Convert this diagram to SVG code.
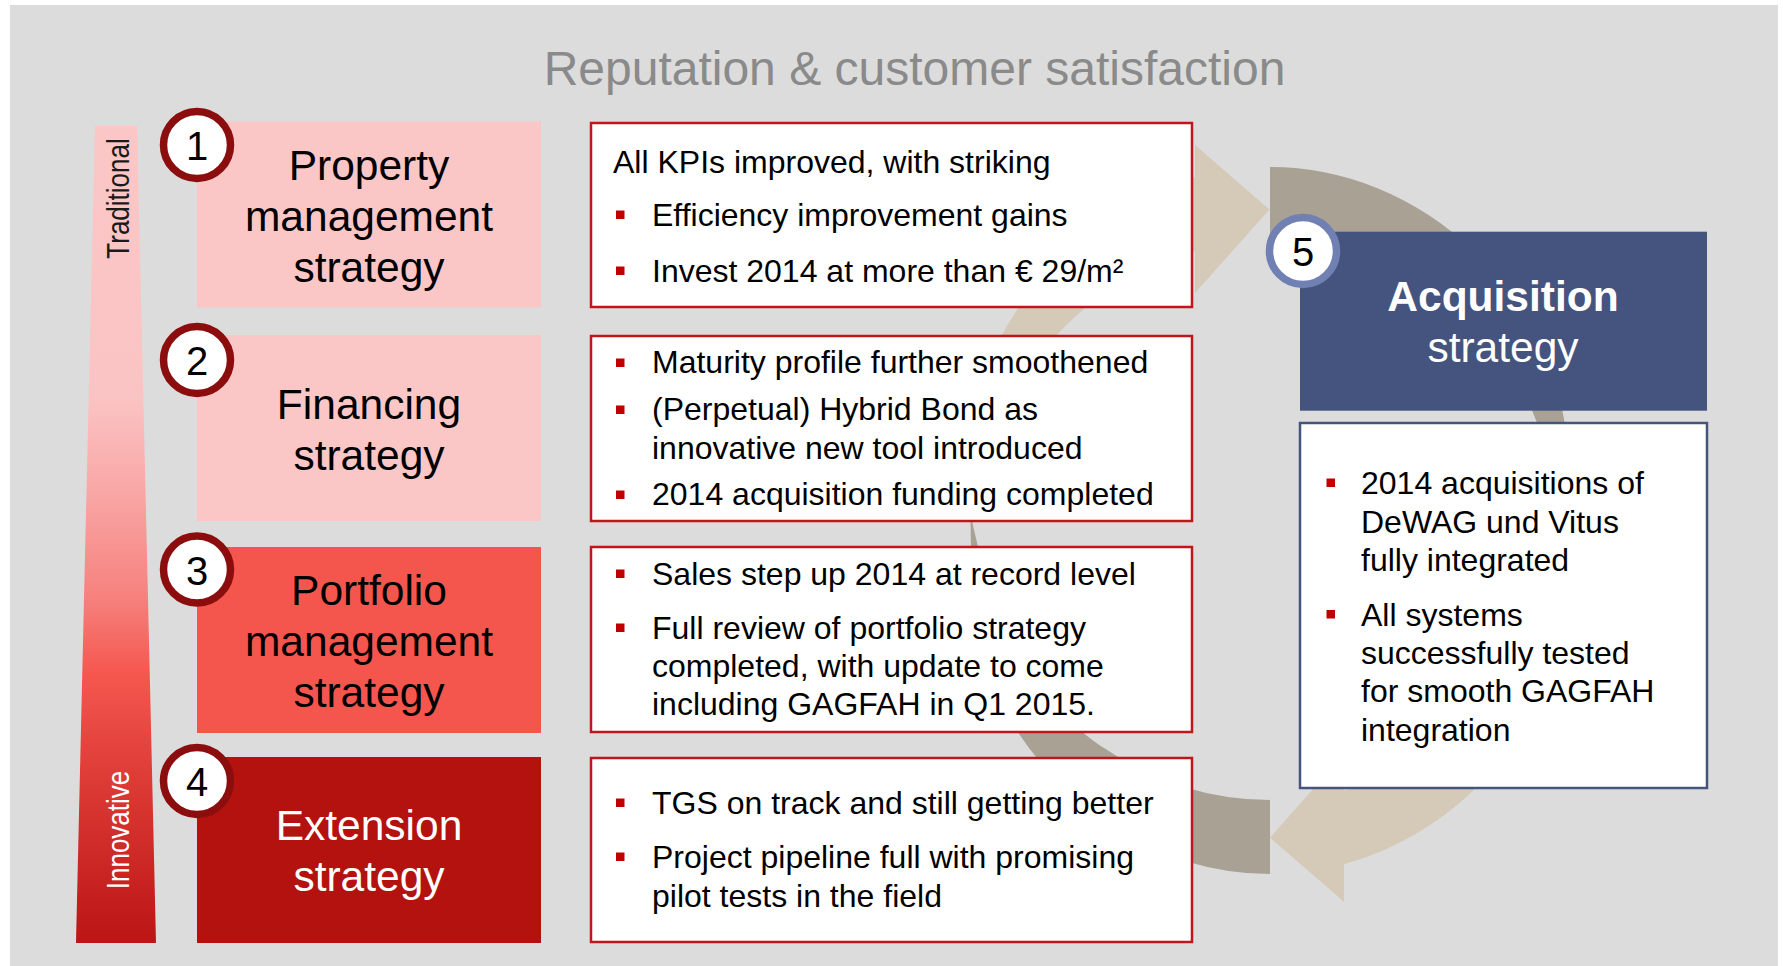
<svg xmlns="http://www.w3.org/2000/svg" width="1783" height="966" viewBox="0 0 1783 966">
<defs>
<linearGradient id="barGrad" x1="0" y1="126" x2="0" y2="943" gradientUnits="userSpaceOnUse">
<stop offset="0" stop-color="#FBC6C6"/>
<stop offset="0.33" stop-color="#FBC4C4"/>
<stop offset="0.46" stop-color="#F8A4A2"/>
<stop offset="0.58" stop-color="#F6807C"/>
<stop offset="0.67" stop-color="#F5574F"/>
<stop offset="0.8" stop-color="#DD3B36"/>
<stop offset="1" stop-color="#BB1515"/>
</linearGradient>
<style>
.t{font-family:"Liberation Sans",Arial,sans-serif;}
.big{font-size:42.5px;text-anchor:middle;}
.body{font-size:32px;fill:#000;}
.num{font-size:40px;text-anchor:middle;fill:#000;}
.ring{fill:#fff;stroke:#8B0D0D;stroke-width:7.5;}
.mbox{fill:#fff;stroke:#C0151A;stroke-width:2.5;}
.bul{fill:#C00000;}
.dark{fill:#A8A194;}
.light{fill:#D5C9B8;}
</style>
</defs>
<rect x="0" y="0" width="1783" height="966" fill="#fff"/>
<rect x="10" y="5" width="1768" height="961" fill="#DCDCDC"/>

<text class="t" x="914.5" y="85" font-size="48" fill="#8A8A8A" text-anchor="middle">Reputation &amp; customer satisfaction</text>

<g id="connectors">
<path class="light" d="M 1195 177.2 L 1195 145 L 1269.5 209.5 L 1195 293 L 1195 250.8 A 285 279.5 0 0 0 989.7 470 L 958.2 470 A 315 353.5 0 0 1 1195 177.2 Z"/>
<path class="light" d="M 1344 864.1 L 1344 901.7 L 1270 837.7 L 1344 754 L 1344 790.4 A 285 279.5 0 0 0 1552.1 560 L 1583 560 A 315 353.5 0 0 1 1344 864.1 Z"/>
<path class="dark" d="M 1270 167 A 315 353.5 0 0 1 1473 250.1 C 1545.6 318.7 1590 440 1555 514.7 A 285 279.5 0 0 0 1270 241 Z"/>
<path class="dark" d="M 970.5 512 C 971 560 970.8 646.9 998.7 700 A 315 353.5 0 0 0 1270 874 L 1270 800 A 285 279.5 0 0 1 1107.3 750 C 1010 690 978 555 970.5 512 Z"/>
</g>

<g id="scale-bar">
<polygon points="95,126 137,126 156,943 76,943" fill="url(#barGrad)"/>
<text class="t" transform="translate(129,198.5) rotate(-90) scale(1,1.23)" font-size="26" fill="#1a1a1a" text-anchor="middle">Traditional</text>
<text class="t" transform="translate(129,830) rotate(-90) scale(1,1.23)" font-size="26" fill="#fff" text-anchor="middle">Innovative</text>
</g>

<g id="node-1">
<rect x="197" y="121.5" width="344" height="186" fill="#FBC6C6"/>
<text class="t big" x="369" y="180" fill="#000">Property</text>
<text class="t big" x="369" y="231" fill="#000">management</text>
<text class="t big" x="369" y="282" fill="#000">strategy</text>
<circle class="ring" cx="197" cy="145" r="33.5"/>
<text class="t num" x="197" y="160">1</text>
</g>

<g id="node-2">
<rect x="197" y="335" width="344" height="186" fill="#FBC6C6"/>
<text class="t big" x="369" y="418.5" fill="#000">Financing</text>
<text class="t big" x="369" y="470" fill="#000">strategy</text>
<circle class="ring" cx="197" cy="360" r="33.5"/>
<text class="t num" x="197" y="375">2</text>
</g>

<g id="node-3">
<rect x="197" y="547" width="344" height="186" fill="#F4564E"/>
<text class="t big" x="369" y="604.5" fill="#000">Portfolio</text>
<text class="t big" x="369" y="655.5" fill="#000">management</text>
<text class="t big" x="369" y="706.5" fill="#000">strategy</text>
<circle class="ring" cx="197" cy="569.5" r="33.5"/>
<text class="t num" x="197" y="584.5">3</text>
</g>

<g id="node-4">
<rect x="197" y="757" width="344" height="186" fill="#B3120E"/>
<text class="t big" x="369" y="840" fill="#fff">Extension</text>
<text class="t big" x="369" y="890.5" fill="#fff">strategy</text>
<circle class="ring" cx="197" cy="781" r="33.5"/>
<text class="t num" x="197" y="796">4</text>
</g>

<g id="detail-1">
<rect class="mbox" x="591" y="123" width="601" height="184"/>
<text class="t body" x="613" y="172.5">All KPIs improved, with striking</text>
<rect class="bul" x="616" y="210.5" width="8.5" height="8.5"/>
<text class="t body" x="652" y="225.5">Efficiency improvement gains</text>
<rect class="bul" x="616" y="266.5" width="8.5" height="8.5"/>
<text class="t body" x="652" y="281.5">Invest 2014 at more than € 29/m²</text>
</g>

<g id="detail-2">
<rect class="mbox" x="591" y="336" width="601" height="185"/>
<rect class="bul" x="616" y="358.5" width="8.5" height="8.5"/>
<text class="t body" x="652" y="373">Maturity profile further smoothened</text>
<rect class="bul" x="616" y="405.5" width="8.5" height="8.5"/>
<text class="t body" x="652" y="420">(Perpetual) Hybrid Bond as</text>
<text class="t body" x="652" y="458.5">innovative new tool introduced</text>
<rect class="bul" x="616" y="490.5" width="8.5" height="8.5"/>
<text class="t body" x="652" y="505">2014 acquisition funding completed</text>
</g>

<g id="detail-3">
<rect class="mbox" x="591" y="547" width="601" height="185"/>
<rect class="bul" x="616" y="569.5" width="8.5" height="8.5"/>
<text class="t body" x="652" y="584.5">Sales step up 2014 at record level</text>
<rect class="bul" x="616" y="623.5" width="8.5" height="8.5"/>
<text class="t body" x="652" y="638.5">Full review of portfolio strategy</text>
<text class="t body" x="652" y="677">completed, with update to come</text>
<text class="t body" x="652" y="715">including GAGFAH in Q1 2015.</text>
</g>

<g id="detail-4">
<rect class="mbox" x="591" y="758" width="601" height="184"/>
<rect class="bul" x="616" y="798.5" width="8.5" height="8.5"/>
<text class="t body" x="652" y="813.5">TGS on track and still getting better</text>
<rect class="bul" x="616" y="852.5" width="8.5" height="8.5"/>
<text class="t body" x="652" y="867.5">Project pipeline full with promising</text>
<text class="t body" x="652" y="906.5">pilot tests in the field</text>
</g>

<g id="node-5">
<rect x="1300" y="231.7" width="407" height="179" fill="#45547E"/>
<text class="t big" x="1503" y="310.7" fill="#fff" font-weight="bold">Acquisition</text>
<text class="t big" x="1503" y="361.7" fill="#fff">strategy</text>
<circle cx="1303" cy="251" r="33.5" fill="#fff" stroke="#7080B2" stroke-width="7.5"/>
<text class="t num" x="1303" y="266">5</text>
</g>

<g id="detail-5">
<rect x="1300" y="423" width="407" height="365" fill="#fff" stroke="#44547C" stroke-width="2.5"/>
<rect class="bul" x="1326.5" y="478.5" width="8.5" height="8.5"/>
<text class="t body" x="1361" y="494">2014 acquisitions of</text>
<text class="t body" x="1361" y="533.3">DeWAG und Vitus</text>
<text class="t body" x="1361" y="570.7">fully integrated</text>
<rect class="bul" x="1326.5" y="610" width="8.5" height="8.5"/>
<text class="t body" x="1361" y="625.7">All systems</text>
<text class="t body" x="1361" y="664.3">successfully tested</text>
<text class="t body" x="1361" y="701.7">for smooth GAGFAH</text>
<text class="t body" x="1361" y="740.7">integration</text>
</g>
</svg>
